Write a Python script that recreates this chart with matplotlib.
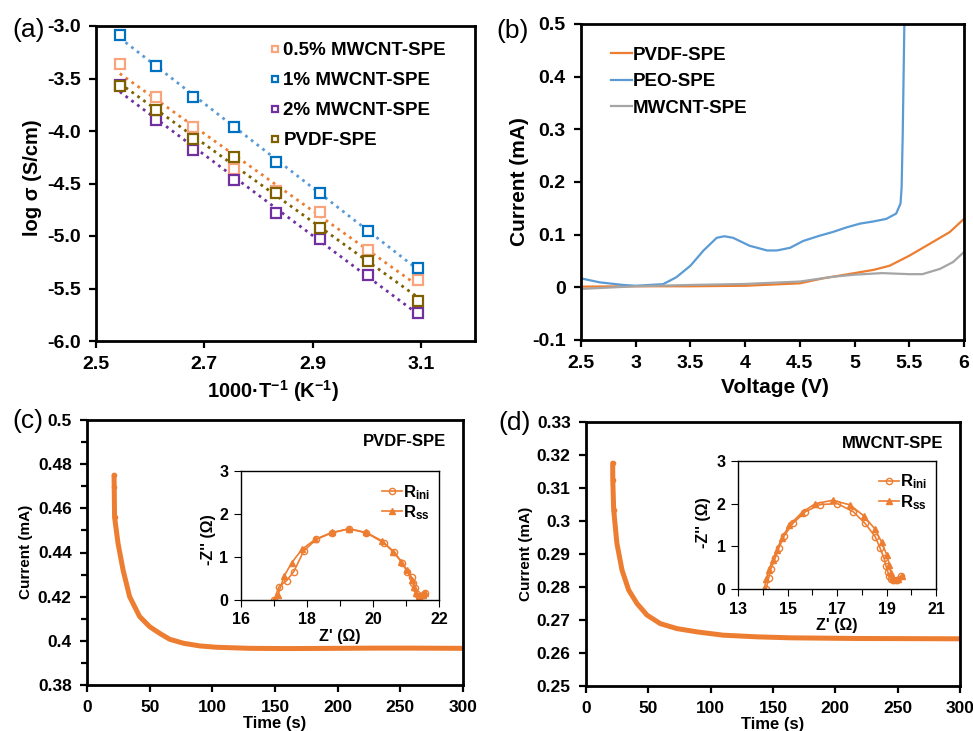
import numpy as np
import matplotlib
matplotlib.use('Agg')
import matplotlib.pyplot as plt
from matplotlib.ticker import MultipleLocator, FixedLocator, FormatStrFormatter

plt.rcParams['font.family'] = ['Liberation Sans', 'DejaVu Sans']
plt.rcParams['font.weight'] = 'bold'
plt.rcParams['axes.labelweight'] = 'bold'
plt.rcParams['mathtext.fontset'] = 'custom'
plt.rcParams['mathtext.rm'] = 'Liberation Sans:bold'
plt.rcParams['mathtext.bf'] = 'Liberation Sans:bold'
plt.rcParams['mathtext.default'] = 'rm'

# ---- (a) Arrhenius data
inv_t = [2.544, 2.610, 2.680, 2.755, 2.832, 2.914, 3.002, 3.095]
sig_05 = [-3.359, -3.677, -3.963, -4.366, -4.575, -4.767, -5.132, -5.418]
sig_1 = [-3.083, -3.381, -3.674, -3.966, -4.293, -4.592, -4.951, -5.301]
sig_2 = [-3.562, -3.899, -4.179, -4.462, -4.777, -5.027, -5.371, -5.733]
sig_pvdf = [-3.572, -3.801, -4.080, -4.246, -4.595, -4.922, -5.240, -5.615]
a_xticks = [2.5, 2.7, 2.9, 3.1]

# ---- (b) LSV data
peo_v = [2.5, 2.67, 2.886, 3.0, 3.25, 3.37, 3.5, 3.62, 3.74, 3.81, 3.89, 4.04,
         4.2, 4.29, 4.41, 4.53, 4.68, 4.8, 4.93, 5.05, 5.17, 5.29, 5.38, 5.42,
         5.43, 5.44, 5.455, 5.47]
peo_i = [0.017, 0.0095, 0.0045, 0.003, 0.006, 0.019, 0.041, 0.07, 0.094, 0.097,
         0.094, 0.079, 0.07, 0.07, 0.075, 0.088, 0.098, 0.105, 0.114, 0.121,
         0.125, 0.130, 0.14, 0.159, 0.19, 0.29, 0.5, 0.6]
pvdf_v = [2.5, 3.0, 3.5, 4.0, 4.5, 4.71, 5.0, 5.17, 5.32, 5.5, 5.69, 5.87, 6.0]
pvdf_i = [0.0013, 0.002, 0.002, 0.003, 0.0076, 0.017, 0.027, 0.033, 0.041,
          0.06, 0.083, 0.105, 0.13]
mw_v = [2.5, 3.0, 3.5, 4.0, 4.5, 4.8, 5.0, 5.25, 5.5, 5.62, 5.78, 5.9, 6.0]
mw_i = [-0.003, 0.002, 0.0045, 0.0064, 0.011, 0.02, 0.024, 0.027, 0.025,
        0.025, 0.035, 0.048, 0.067]

# ---- (c) PVDF-SPE chronoamperometry + EIS
tc = [21.6, 21.7, 22.0, 24.8, 28.8, 34, 42, 50, 58, 66, 77, 90, 103, 130,
      160, 197, 230, 260, 300]
ic = [0.475, 0.4698, 0.456, 0.444, 0.432, 0.420, 0.411, 0.4064, 0.4034,
      0.4007, 0.3989, 0.3977, 0.3971, 0.3966, 0.3965, 0.3966, 0.3967,
      0.3967, 0.3966]
zc_ini_re = [17.0, 17.15, 17.38, 17.6, 17.9, 18.28, 18.75, 19.28, 19.8, 20.33,
             20.64, 20.88, 21.03, 21.17, 21.22, 21.27, 21.32, 21.4, 21.5, 21.57]
zc_ini_im = [0, 0.31, 0.45, 0.66, 1.14, 1.41, 1.56, 1.66, 1.56, 1.33, 1.12,
             0.87, 0.66, 0.53, 0.39, 0.27, 0.14, 0.09, 0.12, 0.17]
zc_ss_re = [17.0, 17.12, 17.31, 17.54, 17.85, 18.25, 18.75, 19.27, 19.8,
            20.26, 20.61, 20.86, 21.03, 21.18, 21.24, 21.31, 21.4, 21.5, 21.57]
zc_ss_im = [0, 0.12, 0.56, 0.87, 1.18, 1.41, 1.57, 1.65, 1.57, 1.38, 1.12,
            0.89, 0.70, 0.46, 0.31, 0.17, 0.09, 0.11, 0.17]

# ---- (d) MWCNT-SPE chronoamperometry + EIS
td = [21.4, 21.5, 22.2, 24.8, 28.9, 34.2, 40.9, 48.9, 59.6, 72.9, 89, 110,
      137, 164, 217, 300]
idd = [0.3175, 0.3124, 0.3034, 0.2932, 0.2851, 0.2791, 0.2750, 0.2715,
       0.2689, 0.2674, 0.2664, 0.2654, 0.2649, 0.2646, 0.2644, 0.2643]
zd_ini_re = [14.14, 14.24, 14.33, 14.5, 14.65, 14.87, 15.22, 15.72, 16.32,
             17.02, 17.66, 18.13, 18.54, 18.74, 18.9, 18.98, 19.05, 19.1,
             19.17, 19.28, 19.41, 19.57]
zd_ini_im = [0, 0.26, 0.47, 0.72, 0.96, 1.25, 1.54, 1.81, 1.98, 2.0, 1.81,
             1.54, 1.23, 0.96, 0.72, 0.54, 0.41, 0.31, 0.23, 0.2, 0.22, 0.3]
zd_ss_re = [14.06, 14.14, 14.24, 14.41, 14.57, 14.77, 15.08, 15.58, 16.12,
            16.83, 17.53, 18.09, 18.54, 18.81, 19.01, 19.12, 19.18, 19.25,
            19.34, 19.48, 19.61]
zd_ss_im = [0, 0.23, 0.45, 0.68, 0.92, 1.19, 1.5, 1.79, 2.0, 2.08, 1.97, 1.71,
            1.4, 1.09, 0.8, 0.57, 0.37, 0.26, 0.22, 0.23, 0.31]

ORANGE = '#ED7D31'
W, H = 973, 731
fig = plt.figure(figsize=(W / 100, H / 100), dpi=100)


def px_axes(l, t, r, b):
    return fig.add_axes([l / W, 1 - b / H, (r - l) / W, (b - t) / H])


def style(ax, lw=2.0, size=14, pad=5):
    for s in ax.spines.values():
        s.set_linewidth(lw)
    ax.tick_params(direction='out', length=5, width=lw * 0.8, labelsize=size,
                   pad=pad)
    ax.tick_params(which='minor', direction='out', length=4, width=lw * 0.8)
    for lab in ax.get_xticklabels() + ax.get_yticklabels():
        lab.set_fontweight('bold')


# ================= (a)
ax1 = px_axes(96, 26, 475, 341)
series = [(sig_05, '#F8A47C', ORANGE, '0.5% MWCNT-SPE'),
          (sig_1, '#0070C0', '#5B9BD5', '1% MWCNT-SPE'),
          (sig_2, '#7030A0', '#7030A0', '2% MWCNT-SPE'),
          (sig_pvdf, '#7F6000', '#7F6000', 'PVDF-SPE')]
for y, mc, lc, lab in series:
    k = np.polyfit(inv_t, y, 1)
    xx = np.array([inv_t[0], inv_t[-1]])
    ax1.plot(xx, np.polyval(k, xx), color=lc, ls=(0, (1, 1.6)), lw=2)
for y, mc, lc, lab in series:
    ax1.plot(inv_t, y, 's', mfc='white', mec=mc, mew=1.6, ms=6.5, ls='none',
             label=lab)
ax1.set_xlim(2.5, 3.2)
ax1.set_ylim(-6, -3)
ax1.xaxis.set_major_locator(FixedLocator(a_xticks))
ax1.yaxis.set_major_locator(MultipleLocator(0.5))
ax1.xaxis.set_major_formatter(FormatStrFormatter('%.1f'))
ax1.yaxis.set_major_formatter(FormatStrFormatter('%.1f'))
style(ax1, pad=6)
ax1.set_xlabel('1000·T$^{-1}$ (K$^{-1}$)', fontsize=14.5)
ax1.set_ylabel('log σ (S/cm)', fontsize=14.5)
ax1.xaxis.set_label_coords(0.467, -0.117)
ax1.yaxis.set_label_coords(-0.142, 0.517)
ax1.legend(loc='upper left', bbox_to_anchor=(0.44, 0.972), frameon=False,
           fontsize=13.5, handlelength=0.5, handletextpad=0.2,
           labelspacing=0.68, markerscale=0.75, borderaxespad=0)

# ================= (b)
ax2 = px_axes(581, 24, 964, 340)
ax2.plot(pvdf_v, pvdf_i, color=ORANGE, lw=1.6, label='PVDF-SPE')
ax2.plot(peo_v, peo_i, color='#5B9BD5', lw=1.6, label='PEO-SPE')
ax2.plot(mw_v, mw_i, color='#A5A5A5', lw=1.6, label='MWCNT-SPE')
ax2.set_xlim(2.5, 6)
ax2.set_ylim(-0.1, 0.5)
ax2.xaxis.set_major_locator(MultipleLocator(0.5))
ax2.yaxis.set_major_locator(MultipleLocator(0.1))
ax2.xaxis.set_major_formatter(FormatStrFormatter('%g'))
ax2.yaxis.set_major_formatter(FormatStrFormatter('%g'))
style(ax2, pad=6)
ax2.set_xlabel('Voltage (V)', fontsize=15)
ax2.set_ylabel('Current (mA)', fontsize=15)
ax2.xaxis.set_label_coords(0.507, -0.12)
ax2.yaxis.set_label_coords(-0.136, 0.5)
ax2.legend(loc='upper left', bbox_to_anchor=(0.06, 0.952), frameon=False,
           fontsize=13.5, handlelength=1.1, handletextpad=0.05,
           labelspacing=0.5, borderaxespad=0)


# ================= (c) and (d)
def ca_panel(box, t, i, ylim, ystep, minor, name, ibox, zre, zim, zre2, zim2,
             zxlim, zxoff, ylab_x, zlab_x, zlab_y):
    ax = px_axes(*box)
    ax.plot(t, i, color=ORANGE, lw=3.6, solid_capstyle='round')
    ax.plot(t[:3], i[:3], color=ORANGE, lw=0, marker='o', ms=3)
    ax.set_xlim(0, 300)
    ax.set_ylim(*ylim)
    ax.xaxis.set_major_locator(MultipleLocator(50))
    ax.yaxis.set_major_locator(MultipleLocator(ystep))
    if minor:
        ax.yaxis.set_minor_locator(MultipleLocator(minor))
    ax.yaxis.set_major_formatter(FormatStrFormatter('%g'))
    style(ax, size=12.5, pad=6)
    ax.set_xlabel('Time (s)', fontsize=12)
    ax.set_ylabel('Current (mA)', fontsize=11)
    ax.xaxis.set_label_coords(0.5, -0.118)
    ax.yaxis.set_label_coords(ylab_x, 0.502)
    ax.text(0.955, 0.92, name, transform=ax.transAxes, ha='right', va='center',
            fontsize=12, fontweight='bold')

    ins = px_axes(*ibox)
    ins.plot(zre, zim, color=ORANGE, lw=1.2, marker='o', ms=4.5, mfc='none',
             mew=1.0, label='R$_{ini}$')
    ins.plot(zre2, zim2, color=ORANGE, lw=1.2, marker='^', ms=4.5, mew=1.0,
             label='R$_{ss}$')
    ins.set_xlim(*zxlim)
    ins.set_ylim(0, 3)
    ins.xaxis.set_major_locator(MultipleLocator(2, offset=zxoff))
    ins.xaxis.set_minor_locator(MultipleLocator(1))
    ins.yaxis.set_major_locator(MultipleLocator(1))
    style(ins, lw=1.0, size=11.5, pad=4)
    ins.set_xlabel("Z' (Ω)", fontsize=11.5)
    ins.set_ylabel("-Z'' (Ω)", fontsize=11.5)
    ins.xaxis.set_label_coords(0.5, -0.226)
    ins.yaxis.set_label_coords(zlab_x, zlab_y)
    ins.legend(loc='upper right', bbox_to_anchor=(0.99, 0.96), frameon=False,
               fontsize=12, handlelength=1.2, handletextpad=0.1,
               labelspacing=0.1, borderaxespad=0)
    return ax


ax3 = ca_panel((87, 420, 463, 685), tc, ic, (0.38, 0.5), 0.02, 0.01,
               'PVDF-SPE', (241, 471, 439, 600), zc_ini_re, zc_ini_im,
               zc_ss_re, zc_ss_im, (16, 22), 0, -0.144, -0.126, 0.47)
ax4 = ca_panel((586, 422, 960, 686), td, idd, (0.25, 0.33), 0.01, None,
               'MWCNT-SPE', (738, 461, 936, 589), zd_ini_re, zd_ini_im,
               zd_ss_re, zd_ss_im, (13, 21), 1, -0.142, -0.136, 0.52)

# panel letters
for x, y, s in [(29, 30, '(a)'), (513, 31, '(b)'), (28, 421, '(c)'),
                (515, 423, '(d)')]:
    fig.text(x / W, 1 - y / H, s, fontsize=19, fontweight='normal',
             ha='center', va='center')

fig.savefig('out.png', dpi=100)
